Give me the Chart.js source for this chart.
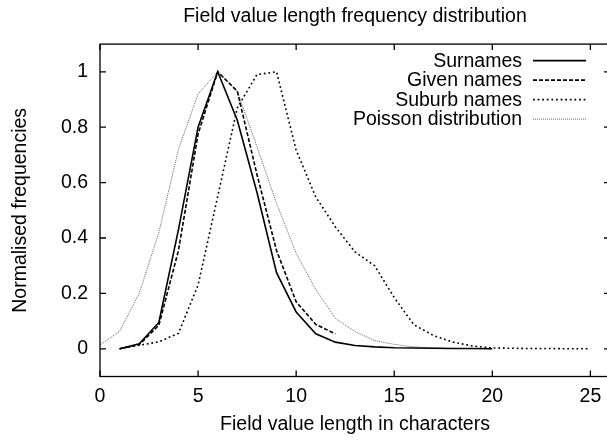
<!DOCTYPE html>
<html>
<head>
<meta charset="utf-8">
<script src="https://cdn.jsdelivr.net/npm/chart.js@4"></script>
<style>
  html, body { margin: 0; padding: 0; background: #fff; overflow: hidden; width: 607px; height: 441px; }
  canvas { display: block; }
</style>
</head>
<body>
<canvas id="c" width="614" height="441" style="width:614px;height:441px"></canvas>
<script>
// ---- data ----
const surnameX = [1,2,3,4,5,6,7,8,9,10,11,12,13,14,15,16,17,18,19,20];
const surnameY = [0,0.018,0.095,0.43,0.80,1.0,0.825,0.565,0.275,0.133,0.054,0.024,0.012,0.007,0.004,0.003,0.002,0.001,0.001,0.0];

const givenX = [1,2,3,4,5,6,7,8,9,10,11,12];
const givenY = [0,0.015,0.085,0.355,0.775,1.0,0.93,0.63,0.355,0.17,0.088,0.054];

const suburbX = [1,2,3,4,5,6,7,8,9,10,11,12,13,14,15,16,17,18,19,20,21,22,23,24,25];
const suburbY = [0,0.013,0.025,0.056,0.23,0.55,0.87,0.99,1.0,0.717,0.548,0.44,0.35,0.30,0.185,0.087,0.048,0.024,0.01,0.003,0.002,0.001,0.001,0.0,0.0];

const poissonX = [0,1,2,3,4,5,6,7,8,9,10,11,12,13,14,15,16,17,18,19,20];
const poissonY = [0.014,0.063,0.2,0.42,0.72,0.92,1.0,0.93,0.73,0.525,0.345,0.214,0.11,0.062,0.03,0.016,0.007,0.003,0.001,0.0005,0.0002];

const seriesLabels = ['Surnames', 'Given names', 'Suburb names', 'Poisson distribution'];

const xTicks = [0,5,10,15,20,25];
const xTickLabels = ['0','5','10','15','20','25'];
const yTicks = [0,0.2,0.4,0.6,0.8,1];
const yTickLabels = ['0','0.2','0.4','0.6','0.8','1'];

const titleText = 'Field value length frequency distribution';
const xTitle = 'Field value length in characters';
const yTitle = 'Normalised frequencies';

// ---- build ----
const FONT = { family: '"Liberation Sans", Arial, Helvetica, sans-serif', size: 19.5, weight: 'normal', lineHeight: 1.2 };
const pts = (xs, ys) => xs.map((x, i) => ({ x: x, y: ys[i] }));

const frameTicks = {
  id: 'frameTicks',
  afterDatasetsDraw(chart) {
    const { ctx, chartArea: a, scales } = chart;
    ctx.save();
    ctx.strokeStyle = '#000';
    ctx.lineWidth = 1.3;
    ctx.setLineDash([]);
    ctx.beginPath();
    const L = 6;
    xTicks.forEach(v => {
      const px = scales.x.getPixelForValue(v);
      ctx.moveTo(px, a.bottom); ctx.lineTo(px, a.bottom - L);
      ctx.moveTo(px, a.top); ctx.lineTo(px, a.top + L);
    });
    yTicks.forEach(v => {
      const py = scales.y.getPixelForValue(v);
      ctx.moveTo(a.left, py); ctx.lineTo(a.left + L, py);
      ctx.moveTo(a.right, py); ctx.lineTo(a.right - L, py);
    });
    ctx.stroke();
    ctx.strokeRect(a.left, a.top, a.right - a.left, a.bottom - a.top);
    ctx.restore();
  }
};

const insideLegend = {
  id: 'insideLegend',
  afterDraw(chart) {
    const { ctx, chartArea: a } = chart;
    ctx.save();
    ctx.font = FONT.size + 'px ' + FONT.family;
    ctx.fillStyle = '#000';
    ctx.textAlign = 'right';
    ctx.textBaseline = 'middle';
    chart.data.datasets.forEach((ds, i) => {
      const y = a.top + 16.5 + i * 19.5;
      ctx.fillText(ds.label, a.right - 88, y + 1);
      ctx.beginPath();
      ctx.strokeStyle = ds.borderColor;
      ctx.lineWidth = ds.borderWidth;
      ctx.setLineDash(ds.borderDash || []);
      ctx.moveTo(a.right - 77, y);
      ctx.lineTo(a.right - 24, y);
      ctx.stroke();
    });
    ctx.restore();
  }
};

new Chart(document.getElementById('c'), {
  type: 'line',
  data: {
    datasets: [
      { label: seriesLabels[0], data: pts(surnameX, surnameY), borderColor: '#000', borderWidth: 1.6, borderDash: [] },
      { label: seriesLabels[1], data: pts(givenX, givenY), borderColor: '#000', borderWidth: 1.6, borderDash: [4, 2] },
      { label: seriesLabels[2], data: pts(suburbX, suburbY), borderColor: '#000', borderWidth: 1.6, borderDash: [1.8, 2.8] },
      { label: seriesLabels[3], data: pts(poissonX, poissonY), borderColor: '#666', borderWidth: 1, borderDash: [1, 1] }
    ]
  },
  options: {
    responsive: false,
    animation: false,
    devicePixelRatio: 1,
    layout: { padding: { left: 0, right: 4, top: 0, bottom: 0 } },
    elements: { point: { radius: 0 }, line: { tension: 0, fill: false } },
    plugins: {
      legend: { display: false },
      tooltip: { enabled: false },
      title: {
        display: true, text: titleText, fullSize: false, color: '#000',
        font: FONT, padding: { top: 4.6, bottom: 16.1 }
      }
    },
    scales: {
      x: {
        type: 'linear', min: 0, max: 26,
        afterBuildTicks: s => { s.ticks = xTicks.map(v => ({ value: v })); },
        afterFit: s => { s.height = 64.5; },
        grid: { display: false, drawTicks: false },
        border: { display: false },
        ticks: { padding: 8, color: '#000', font: FONT, maxRotation: 0, autoSkip: false,
                 callback: (v, i) => xTickLabels[i] },
        title: { display: true, text: xTitle, color: '#000', font: FONT, padding: { top: 0, bottom: 4.6 } }
      },
      y: {
        type: 'linear', min: -0.1, max: 1.1,
        afterBuildTicks: s => { s.ticks = yTicks.map(v => ({ value: v })); },
        afterFit: s => { s.width = 100; },
        grid: { display: false, drawTicks: false },
        border: { display: false },
        ticks: { padding: 12, color: '#000', font: FONT, autoSkip: false,
                 callback: (v, i) => yTickLabels[i] },
        title: { display: true, text: yTitle, color: '#000', font: FONT, padding: { top: 8.6, bottom: 0 } }
      }
    }
  },
  plugins: [frameTicks, insideLegend]
});
</script>
</body>
</html>
